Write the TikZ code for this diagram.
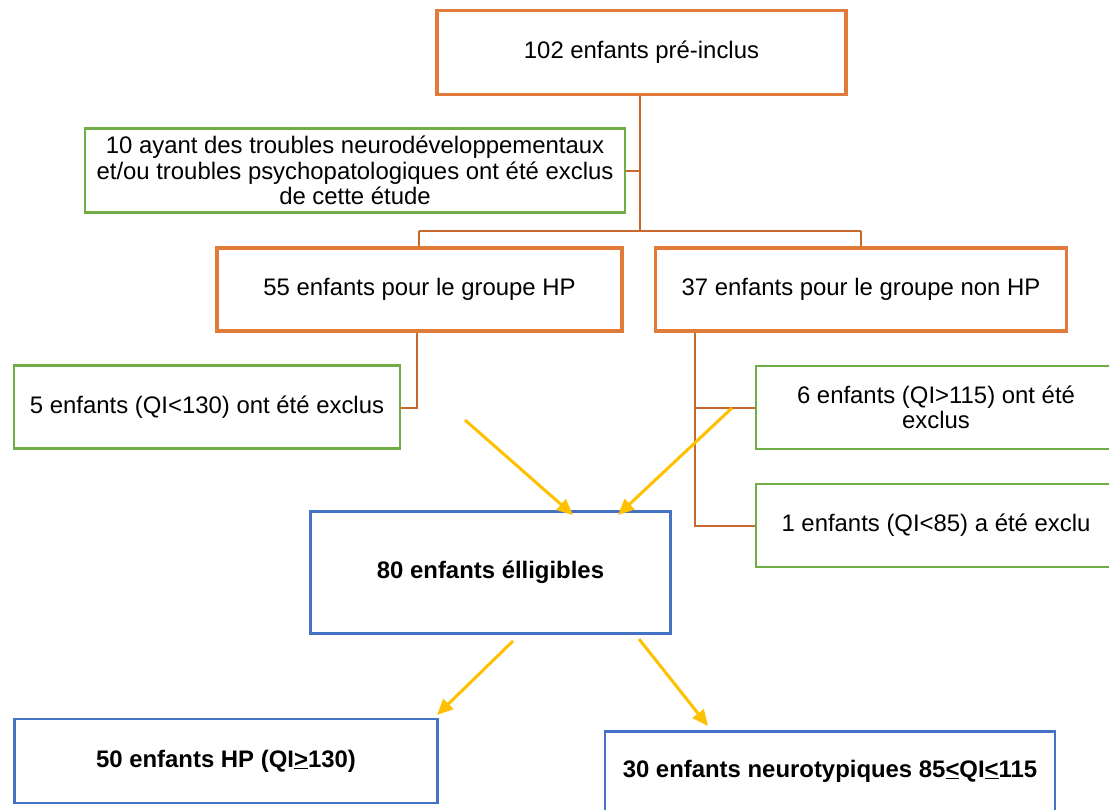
\documentclass[tikz,border=0pt]{standalone}
\usepackage{fontspec}
\setmainfont{Liberation Sans}
\usetikzlibrary{arrows.meta}
\definecolor{orangeB}{HTML}{E07B39}
\definecolor{orangeL}{HTML}{C8672E}
\definecolor{greenB}{HTML}{70AD47}
\definecolor{blueB}{HTML}{4472C4}
\definecolor{yellowA}{HTML}{FFC000}
\tikzset{
  every node/.style={font=\fontsize{23.9}{25.5}\selectfont, align=center, inner sep=0pt},
  obox/.style={draw=orangeB, line width=3.5pt, fill=white},
  gbox/.style={draw=greenB, line width=2.5pt, fill=white},
  bbox/.style={draw=blueB, line width=2.5pt, fill=white, font=\fontsize{23.9}{25.5}\selectfont\bfseries},
  link/.style={draw=orangeL, line width=2pt},
  yarrow/.style={draw=yellowA, line width=3pt, -{Triangle[length=16pt,width=14pt]}},
}
\begin{document}
\begin{tikzpicture}[x=1pt,y=-1pt]
\useasboundingbox (0,0) rectangle (1109,809);
% orange boxes
\node[obox, minimum width=409pt, minimum height=84pt] (top) at (641.5,52.5) {102 enfants pré-inclus};
\node[obox, minimum width=405pt, minimum height=83pt] (hp) at (419.5,289.5) {55 enfants pour le groupe HP};
\node[obox, minimum width=411pt, minimum height=83pt] (nhp) at (861,289.5) {37 enfants pour le groupe non HP};
% green boxes
\node[gbox, minimum width=540pt, minimum height=84pt] (ex10) at (355,170.5) {10 ayant des troubles neurodéveloppementaux\\et/ou troubles psychopatologiques ont été exclus\\de cette étude};
\node[gbox, minimum width=386pt, minimum height=83pt] (ex5) at (207,407) {5 enfants (QI<130) ont été exclus};
\node[gbox, minimum width=360pt, minimum height=83pt] (ex6) at (936,407.5) {6 enfants (QI>115) ont été\\exclus};
\node[gbox, minimum width=360pt, minimum height=83pt] (ex1) at (936,525.5) {1 enfants (QI<85) a été exclu};
% blue boxes
\node[bbox, minimum width=360pt, minimum height=122pt] (elig) at (490.5,572.5) {80 enfants élligibles};
\node[bbox, minimum width=423pt, minimum height=84pt] (hp50) at (226,761) {50 enfants HP (QI\underline{>}130)};
\node[bbox, minimum width=450pt, minimum height=84pt, anchor=north] (nt30) at (830,730) {};
\node[font=\fontsize{23.9}{25.5}\selectfont\bfseries] (nt30t) at (830,771) {30 enfants neurotypiques 85\underline{<}QI\underline{<}115};
% orange connectors
\coordinate (j1) at (640,231);
\coordinate (jl) at (419,231);
\coordinate (jr) at (861,231);
\draw[link] (top.south -| j1) -- (j1);
\draw[link] (ex10.east) -- (ex10.east -| j1);
\draw[link] (jl) -- (jr);
\draw[link] (jl) -- (hp.north -| jl);
\draw[link] (jr) -- (nhp.north -| jr);
\coordinate (b5) at (417,408);
\draw[link] (hp.south -| b5) -- (b5) -- (ex5.east |- b5);
\coordinate (rv) at (695,526);
\draw[link] (nhp.south -| rv) -- (rv) -- (ex1.west |- rv);
\draw[link] (rv |- ex6.west) -- (ex6.west);
% yellow arrows
\coordinate (a1s) at (465,420);
\coordinate (a2s) at (732,408);
\coordinate (a3s) at (513,641);
\coordinate (a4s) at (639,639);
\draw[yarrow] (a1s) -- (573,515);
\draw[yarrow] (a2s) -- (618,515);
\draw[yarrow] (a3s) -- (437,715);
\draw[yarrow] (a4s) -- (708,726);
\end{tikzpicture}
\end{document}
